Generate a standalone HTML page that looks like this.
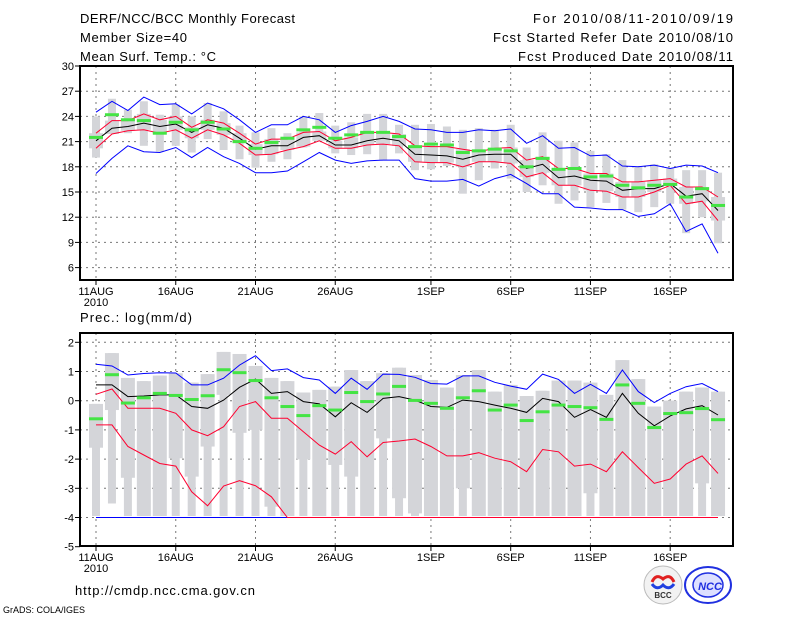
<!DOCTYPE html>
<html><head><meta charset="utf-8">
<style>
html,body{margin:0;padding:0;background:#fff;}
svg{display:block;font-family:"Liberation Sans",sans-serif;}
</style></head>
<body>
<svg id="chart" width="800" height="618" viewBox="0 0 800 618" xmlns="http://www.w3.org/2000/svg">
<rect x="0" y="0" width="800" height="618" fill="#fff"/>
<text x="80" y="23" font-size="13" textLength="215" lengthAdjust="spacing">DERF/NCC/BCC Monthly Forecast</text>
<text x="80" y="42" font-size="13" textLength="107" lengthAdjust="spacing">Member Size=40</text>
<text x="80" y="61" font-size="13" textLength="136" lengthAdjust="spacing">Mean Surf. Temp.: °C</text>
<text x="533" y="23" font-size="13" textLength="200" lengthAdjust="spacing">For 2010/08/11-2010/09/19</text>
<text x="493" y="42" font-size="13" textLength="240" lengthAdjust="spacing">Fcst Started Refer Date 2010/08/10</text>
<text x="518" y="61" font-size="13" textLength="215" lengthAdjust="spacing">Fcst Produced Date 2010/08/11</text>
<text x="80" y="322" font-size="13" textLength="112" lengthAdjust="spacing">Prec.: log(mm/d)</text>
<text x="75" y="595" font-size="13" textLength="180" lengthAdjust="spacing">http://cmdp.ncc.cma.gov.cn</text>
<text x="3" y="613" font-size="9">GrADS: COLA/IGES</text>
<g>
<circle cx="663" cy="585" r="19" fill="#f2f2f2" stroke="#bbb" stroke-width="1"/>
<path d="M652 582 q4 -9 11 -3 q7 -6 11 3" fill="none" stroke="#e02020" stroke-width="3"/>
<path d="M652 584 q5 7 11 1 q6 6 11 -1" fill="none" stroke="#2040e0" stroke-width="3"/>
<text x="663" y="598" font-size="8" font-weight="bold" text-anchor="middle" fill="#333">BCC</text>
</g>
<g>
<ellipse cx="708" cy="585" rx="23" ry="18" fill="#fff" stroke="#2030e0" stroke-width="2"/>
<ellipse cx="708" cy="585" rx="15" ry="12" fill="#dde0ff" stroke="#2030e0" stroke-width="1.5"/>
<text x="710" y="590" font-size="11" font-style="italic" font-weight="bold" text-anchor="middle" fill="#2030e0">NCC</text>
</g>
<g id="top"></g>
<g id="bot"></g>
</svg>
<script>
// ---- shared categories ----
const dayLabels = ["11AUG","16AUG","21AUG","26AUG","1SEP","6SEP","11SEP","16SEP"];
const dayLabelIdx = [0,5,10,15,21,26,31,36];
// ---- temperature panel ----
const tTicks = [30,27,24,21,18,15,12,9,6];
const tMax = [24.5,25.8,24.7,26.3,25.4,25.5,24.3,25.6,24.9,23.6,22.1,23.0,23.0,24.0,23.6,22.1,22.9,23.4,24.0,23.4,22.5,22.4,22.1,22.1,22.4,22.3,22.5,20.8,21.7,20.2,20.3,19.3,19.4,18.1,18.0,18.2,17.8,18.2,18.1,17.3];
const tMin = [17.2,19.0,20.5,19.8,19.7,20.3,19.1,20.3,19.2,18.4,17.3,17.3,17.5,18.6,19.7,18.8,18.4,18.7,18.8,18.8,16.6,16.3,16.3,16.5,15.7,16.6,17.1,16.0,14.8,14.8,13.2,13.1,12.9,12.9,12.1,12.4,13.6,10.3,11.2,7.7];
const tUp = [22.0,23.5,23.5,24.3,23.6,24.0,22.7,23.6,23.2,22.0,20.7,21.3,21.3,22.1,22.2,21.1,21.5,22.1,22.1,21.9,20.5,20.4,20.4,20.1,19.8,20.2,20.3,18.8,19.2,17.8,17.8,17.2,17.2,16.2,16.2,16.4,16.6,15.6,15.6,14.4];
const tLo = [20.2,21.9,22.3,22.4,22.0,22.4,21.4,22.4,21.8,20.8,19.4,19.5,20.0,20.4,21.1,20.2,20.2,20.6,20.7,20.5,18.6,18.5,18.5,18.0,18.6,18.6,18.4,16.8,17.3,15.8,15.8,15.2,15.1,14.4,14.4,15.0,15.8,13.6,13.9,11.6];
const tMean = [21.1,22.6,22.8,23.2,22.8,23.1,22.1,23.0,22.6,21.4,20.1,20.5,20.5,21.5,21.7,20.6,20.6,21.1,21.4,21.1,19.5,19.4,19.3,18.9,19.4,19.5,19.5,17.8,18.3,16.7,16.9,16.4,16.3,15.2,15.4,15.4,16.0,14.5,14.8,12.8];
const tMark = [21.5,24.2,23.6,23.5,22.0,23.3,22.4,23.3,22.5,21.0,20.2,20.9,21.4,22.4,22.7,21.4,21.8,22.1,22.1,21.6,20.4,20.7,20.6,19.7,19.9,20.1,19.9,18.0,19.0,17.7,17.8,16.8,16.9,15.8,15.5,15.8,15.9,14.4,15.4,13.4];
const tBarHi = [24.0,26.1,24.8,25.8,24.2,25.4,24.0,25.6,24.6,22.9,22.1,22.6,22.0,24.0,24.4,22.9,23.3,24.3,24.3,23.0,23.0,23.1,22.8,22.4,22.6,22.4,23.0,20.3,22.1,21.1,20.9,19.9,19.5,18.8,18.0,18.3,17.8,17.6,17.6,17.3];
const tBarLo = [19.1,22.5,22.0,20.5,19.8,20.5,19.7,21.3,20.0,18.9,17.9,18.6,18.9,20.3,21.2,19.6,19.4,19.5,18.8,19.6,17.6,17.7,18.1,14.8,16.4,17.8,16.6,15.0,15.8,13.6,14.0,13.2,13.7,12.9,12.6,13.2,13.6,10.1,12.0,8.9];
// ---- precipitation panel ----
const pTicks = [2,1,0,-1,-2,-3,-4,-5];
const pMax = [1.25,1.19,0.88,0.93,0.96,0.95,0.54,0.54,0.77,1.22,1.54,1.03,1.09,0.79,0.71,0.25,0.77,0.39,0.91,0.90,0.80,0.59,0.57,0.85,0.85,0.63,0.50,0.39,0.91,0.73,0.25,0.56,0.25,1.05,0.31,-0.06,0.25,0.48,0.59,0.31];
const pMin = [-4,-4,-4,-4,-4,-4,-4,-4,-4,-4,-4,-4,-4,-4,-4,-4,-4,-4,-4,-4,-4,-4,-4,-4,-4,-4,-4,-4,-4,-4,-4,-4,-4,-4,-4,-4,-4,-4,-4,-4];
const pUp = [0.22,0.40,-0.26,-0.26,-0.26,-0.43,-1.00,-1.20,-0.89,-0.20,-0.03,-0.60,-0.60,-1.06,-1.52,-1.83,-1.40,-1.92,-1.43,-1.38,-1.31,-1.57,-1.89,-1.89,-1.78,-1.97,-2.09,-2.43,-1.67,-1.75,-2.24,-2.17,-2.43,-1.75,-2.29,-2.83,-2.68,-2.17,-1.89,-2.49];
const pLo = [-0.83,-0.83,-1.57,-1.86,-2.15,-2.24,-3.12,-3.60,-2.92,-2.74,-2.91,-3.29,-4,-4,-4,-4,-4,-4,-4,-4,-4,-4,-4,-4,-4,-4,-4,-4,-4,-4,-4,-4,-4,-4,-4,-4,-4,-4,-4,-4];
const pMean = [0.54,0.54,0.14,0.16,0.20,0.20,-0.20,-0.26,0.02,0.46,0.74,0.25,0.31,-0.03,-0.11,-0.55,-0.07,-0.40,0.08,0.14,0.02,-0.20,-0.23,0.02,-0.03,-0.15,-0.26,-0.40,0.08,-0.03,-0.57,-0.30,-0.57,0.25,-0.43,-0.86,-0.52,-0.28,-0.17,-0.49];
const pMark = [-0.62,0.89,-0.08,0.10,0.25,0.18,0.04,0.17,1.06,0.96,0.69,0.10,-0.20,-0.51,-0.17,-0.32,0.28,-0.03,0.23,0.49,0.01,-0.09,-0.26,0.10,0.34,-0.32,-0.15,-0.68,-0.38,-0.15,-0.20,-0.24,-0.64,0.54,-0.09,-0.92,-0.44,-0.41,-0.27,-0.65];
const pBoxHi = [-0.11,1.63,0.78,0.67,0.86,0.94,0.62,0.91,1.67,1.60,1.19,0.78,0.67,0.28,0.37,0.48,1.05,0.67,0.94,1.13,0.88,0.71,0.45,0.88,1.05,0.31,0.54,0.16,0.34,0.69,0.69,0.62,0.20,1.39,0.74,-0.20,0.00,0.31,0.45,0.31];
const pBoxLo = [-1.61,-0.32,-2.64,-3.95,-3.95,-1.97,-2.60,-1.57,0.20,-1.10,-1.00,-3.63,-3.95,-2.01,-3.95,-2.20,-2.60,-3.95,-1.29,-3.34,-3.86,-3.95,-3.95,-3.00,-3.95,-3.95,-3.95,-3.95,-3.95,-3.95,-3.95,-3.17,-3.95,-3.95,-3.95,-3.95,-3.95,-3.95,-2.83,-3.95];
const pBarLo = [-3.95,-3.52,-3.95,-3.95,-3.95,-3.95,-3.95,-3.95,-3.95,-3.95,-3.95,-3.95,-3.95,-3.95,-3.95,-3.95,-3.95,-3.95,-3.95,-3.95,-3.95,-3.95,-3.95,-3.95,-3.95,-3.95,-3.95,-3.95,-3.95,-3.95,-3.95,-3.95,-3.95,-3.95,-3.95,-3.95,-3.95,-3.95,-3.95,-3.95];

const NS="http://www.w3.org/2000/svg";
const X0=80, X1=733;
const x = d => 96 + d*15.95;
const yT = v => 66 + (30 - v)*8.4;
const yP = v => 342.3 + (2 - v)*29.2;
function mk(parent, tag, attrs){
  const e=document.createElementNS(NS,tag);
  for(const k in attrs) e.setAttribute(k, attrs[k]);
  parent.appendChild(e); return e;
}
function panel(g, top, bot, ticks, yf, name){
  ticks.forEach(t=>{
    const yy=yf(t);
    if(yy>top+1 && yy<bot-1){
      const l=mk(g,'line',{x1:X0,x2:X1,y1:yy,y2:yy,stroke:'#777','stroke-dasharray':'2,4','stroke-width':1});
      
      
    }
    const tk=mk(g,'line',{x1:X0-5,x2:X0,y1:yy,y2:yy,stroke:'#000','stroke-width':1});
    
    
    const tx=mk(g,'text',{x:X0-6,y:yy+4,'font-size':11,'text-anchor':'end'});
    tx.textContent=t;
    
    
  });
  dayLabelIdx.forEach((d,i)=>{
    const xx=x(d);
    const l=mk(g,'line',{x1:xx,x2:xx,y1:top,y2:bot,stroke:'#777','stroke-dasharray':'2,4','stroke-width':1});
    
    
    const tk=mk(g,'line',{x1:xx,x2:xx,y1:bot,y2:bot+5,stroke:'#000','stroke-width':1});
    
    
    const tx=mk(g,'text',{x:xx,y:bot+15,'font-size':11,'text-anchor':'middle'});
    tx.textContent=dayLabels[i];
    
    
  });
  const yr=mk(g,'text',{x:x(0),y:bot+26,'font-size':11,'text-anchor':'middle'});
  yr.textContent='2010';
  
  
}
function bars(g, hi, lo, boxHi, boxLo, yf, name){
  hi.forEach((h,d)=>{
    const a=yf(h), b=yf(lo[d]);
    const r=mk(g,'rect',{x:x(d)-4,y:Math.min(a,b),width:8,height:Math.abs(b-a),fill:'#d4d5d9'});
    
    
    const c=yf(boxHi[d]), e=yf(boxLo[d]);
    const r2=mk(g,'rect',{x:x(d)-7,y:Math.min(c,e),width:14,height:Math.abs(e-c),fill:'#d4d5d9'});
    
    
  });
}
function line(g, vals, yf, color, name){
  const pts=vals.map((v,d)=>x(d).toFixed(1)+','+yf(v).toFixed(1)).join(' ');
  const p=mk(g,'polyline',{points:pts,fill:'none',stroke:color,'stroke-width':1});
  
  
}
function marks(g, vals, yf, name){
  vals.forEach((v,d)=>{
    const r=mk(g,'rect',{x:x(d)-7,y:yf(v)-1.5,width:14,height:3,fill:'#44e444'});
    
    
  });
}
function frame(g, top, bot, name){
  const r=mk(g,'rect',{x:X0,y:top,width:X1-X0,height:bot-top,fill:'none',stroke:'#000','stroke-width':2});
  
  
}
const gt=document.getElementById('top');


panel(gt,66,280,tTicks,yT,'temp');
bars(gt,tBarHi,tBarLo,tUp,tLo,yT,'temp');
line(gt,tMax,yT,'#0000ff','temp-max-line');
line(gt,tMin,yT,'#0000ff','temp-min-line');
line(gt,tUp,yT,'#ff0030','temp-upper-line');
line(gt,tLo,yT,'#ff0030','temp-lower-line');
line(gt,tMean,yT,'#000','temp-mean-line');
marks(gt,tMark,yT,'temp-mark');
frame(gt,66,280,'temp');

const gb=document.getElementById('bot');


panel(gb,333,546,pTicks,yP,'precip');
bars(gb,pBoxHi,pBarLo,pBoxHi,pBoxLo,yP,'precip');
line(gb,pMax,yP,'#0000ff','precip-max-line');
line(gb,pMin,yP,'#0000ff','precip-min-line');
line(gb,pUp,yP,'#ff0030','precip-upper-line');
line(gb,pLo,yP,'#ff0030','precip-lower-line');
line(gb,pMean,yP,'#000','precip-mean-line');
marks(gb,pMark,yP,'precip-mark');
frame(gb,333,546,'precip');
</script>
</body></html>
